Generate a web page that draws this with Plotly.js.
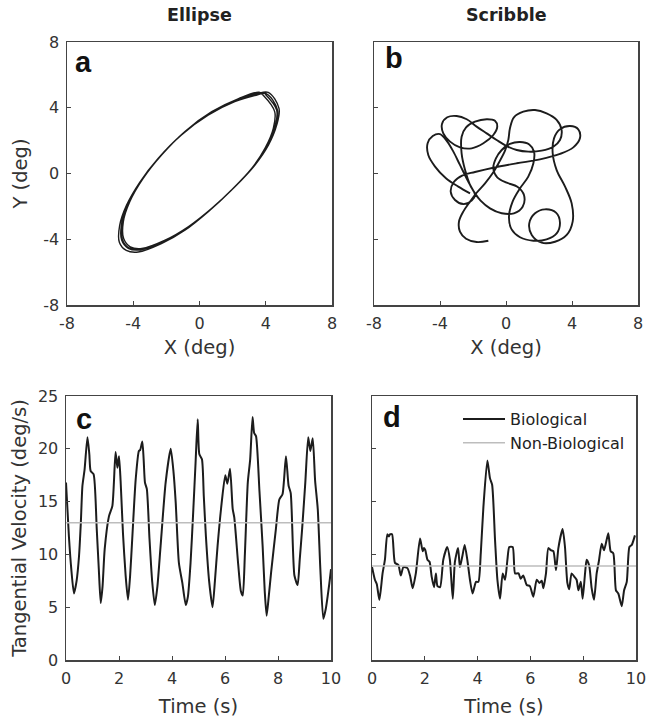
<!DOCTYPE html>
<html>
<head>
<meta charset="utf-8">
<script src="https://cdn.plot.ly/plotly-3.0.1.min.js"></script>
<style>html,body{margin:0;padding:0;background:#fff;}#chart{width:646px;height:718px;}</style>
</head>
<body>
<div id="chart"></div>
<script>
// ---------- Panel a: ellipse trajectory (deg), several traced loops ----------
const ellipseLoop1X = [3.96, 4.66, 4.56, 4.06, 3.25, 2.04, 0.63, -0.77, -2.19, -3.59, -4.30, -4.70, -4.70, -4.30, -3.49, -2.39, -0.98, 0.63, 2.25, 3.45];
const ellipseLoop1Y = [4.84, 3.86, 2.85, 1.63, 0.41, -0.90, -2.22, -3.33, -4.15, -4.65, -4.55, -4.05, -3.03, -1.81, -0.40, 1.02, 2.45, 3.66, 4.47, 4.84];
const ellipseLoop2X = [4.15, 4.80, 4.66, 4.16, 3.34, 2.14, 0.74, -0.66, -2.08, -3.48, -4.18, -4.58, -4.60, -4.21, -3.40, -2.29, -0.88, 0.74, 2.36, 3.60];
const ellipseLoop2Y = [4.94, 3.96, 2.94, 1.72, 0.50, -0.81, -2.12, -3.23, -4.06, -4.56, -4.46, -3.96, -2.94, -1.72, -0.30, 1.12, 2.56, 3.76, 4.56, 4.94];
const ellipseLoop3X = [3.86, 4.54, 4.46, 3.96, 3.16, 1.94, 0.53, -0.88, -2.30, -3.70, -4.42, -4.84, -4.82, -4.41, -3.60, -2.50, -1.09, 0.52, 2.13, 3.33];
const ellipseLoop3Y = [4.74, 3.76, 2.76, 1.54, 0.32, -1.00, -2.32, -3.45, -4.27, -4.78, -4.68, -4.18, -3.16, -1.94, -0.52, 0.91, 2.35, 3.55, 4.37, 4.74];
const ellipseLoop4X = [4.02, 4.70, 4.59, 4.08, 3.27, 2.06, 0.66, -0.74, -2.16, -3.56, -4.27, -4.66, -4.67, -4.28, -3.47, -2.36, -0.95, 0.66, 2.28, 3.50, 4.05];
const ellipseLoop4Y = [4.86, 3.89, 2.88, 1.65, 0.43, -0.88, -2.19, -3.30, -4.12, -4.62, -4.52, -4.02, -3.00, -1.78, -0.37, 1.05, 2.48, 3.69, 4.50, 4.87, 4.90];

// ---------- Panel b: scribble trajectory (deg) ----------
const scribbleX = [-1.07, -1.78, -2.42, -2.79, -2.85, -2.59, -2.18, -1.78, -1.27, -0.81, -0.40, -0.06, 0.14, 0.24, 0.48, 1.05, 1.76, 2.46, 3.07, 3.37, 3.27, 2.87, 2.16, 1.35, 0.65, 0.04, -0.57, -1.17, -1.78, -2.38, -2.99, -3.56, -3.88, -3.80, -3.39, -2.79, -2.08, -1.37, -0.77, -0.53, -0.67, -1.17, -1.88, -2.42, -2.69, -2.69, -2.48, -2.18, -1.88, -2.08, -2.59, -3.09, -3.35, -3.15, -2.63, -1.88, -0.77, 0.65, 2.06, 3.27, 4.08, 4.48, 4.38, 3.88, 3.27, 2.91, 2.83, 3.07, 3.58, 3.98, 4.04, 3.68, 2.97, 2.16, 1.56, 1.41, 1.76, 2.36, 3.03, 3.27, 3.07, 2.46, 1.66, 0.85, 0.34, 0.18, 0.40, 0.85, 1.35, 1.66, 1.70, 1.41, 0.85, 0.24, -0.26, -0.61, -0.77, -0.53, 0.04, 0.69, 1.09, 1.01, 0.48, -0.26, -0.97, -1.54, -1.88, -2.28, -2.79, -3.19, -3.56, -4.00, -4.44, -4.75, -4.71, -4.30, -3.64, -2.89, -2.18];
const scribbleY = [-4.09, -4.17, -3.97, -3.54, -2.93, -2.32, -1.71, -1.17, -0.60, 0.01, 0.72, 1.39, 2.04, 2.75, 3.42, 3.76, 3.86, 3.66, 3.26, 2.65, 2.04, 1.63, 1.39, 1.33, 1.43, 1.67, 2.04, 2.44, 2.85, 3.30, 3.50, 3.42, 3.01, 2.44, 1.94, 1.59, 1.53, 1.84, 2.34, 2.85, 3.21, 3.30, 3.15, 2.81, 2.24, 1.23, 0.21, -0.70, -1.31, -1.65, -1.86, -1.61, -1.11, -0.50, -0.11, 0.09, 0.35, 0.62, 0.86, 1.19, 1.59, 2.14, 2.69, 2.89, 2.69, 2.14, 1.23, 0.21, -0.80, -1.82, -2.93, -3.74, -4.15, -4.21, -3.74, -3.03, -2.42, -2.18, -2.38, -2.99, -3.64, -4.01, -4.09, -3.88, -3.40, -2.63, -1.71, -0.90, -0.19, 0.62, 1.33, 1.77, 1.92, 1.80, 1.43, 0.92, 0.31, -0.23, -0.56, -0.80, -1.31, -2.02, -2.42, -2.42, -2.12, -1.65, -1.21, -0.50, 0.52, 1.33, 1.94, 2.40, 2.28, 1.84, 1.12, 0.42, -0.29, -0.80, -1.21];

// ---------- Panel c: ellipse tangential velocity ----------
const ellipseTime = [0.00, 0.11, 0.20, 0.30, 0.40, 0.49, 0.56, 0.62, 0.70, 0.81, 0.88, 0.93, 1.04, 1.16, 1.24, 1.31, 1.38, 1.46, 1.62, 1.75, 1.87, 1.94, 2.00, 2.06, 2.15, 2.25, 2.34, 2.42, 2.50, 2.63, 2.75, 2.80, 2.88, 2.93, 2.98, 3.05, 3.15, 3.25, 3.35, 3.45, 3.57, 3.76, 3.95, 4.05, 4.14, 4.26, 4.39, 4.52, 4.60, 4.70, 4.80, 4.89, 4.97, 5.03, 5.13, 5.20, 5.28, 5.40, 5.53, 5.62, 5.72, 5.85, 6.01, 6.09, 6.19, 6.29, 6.35, 6.50, 6.60, 6.67, 6.75, 6.86, 6.95, 7.04, 7.10, 7.17, 7.30, 7.42, 7.50, 7.57, 7.65, 7.74, 7.92, 8.05, 8.17, 8.30, 8.40, 8.48, 8.62, 8.74, 8.82, 8.91, 9.03, 9.14, 9.22, 9.31, 9.40, 9.50, 9.60, 9.71, 9.80, 9.94, 10.00];
const ellipseBioVel = [16.8, 11.7, 8.6, 6.3, 7.5, 9.8, 13.0, 16.5, 18.0, 21.1, 19.5, 17.9, 17.6, 12.4, 8.5, 5.4, 7.0, 10.5, 13.6, 14.6, 19.7, 18.2, 19.3, 17.0, 12.0, 8.0, 5.7, 8.0, 11.5, 17.1, 19.8, 19.9, 20.7, 19.0, 16.8, 16.2, 11.5, 7.5, 5.2, 7.0, 10.8, 16.8, 20.0, 18.0, 14.9, 9.2, 7.3, 5.2, 6.0, 9.2, 14.0, 18.7, 22.8, 19.5, 19.0, 15.5, 11.7, 7.5, 5.0, 7.5, 10.8, 14.3, 17.5, 16.7, 18.1, 14.3, 13.5, 9.0, 6.5, 6.1, 10.0, 16.8, 19.0, 23.0, 21.5, 21.2, 16.0, 10.8, 6.5, 4.2, 6.0, 8.3, 12.4, 15.2, 15.7, 19.3, 16.5, 15.8, 8.0, 7.1, 9.5, 12.4, 16.8, 21.1, 19.8, 21.0, 17.0, 14.3, 8.5, 3.9, 4.8, 7.3, 8.6];
const ellipseNonBioTime = [0, 10];
const ellipseNonBioVel = [13.0, 13.0];

// ---------- Panel d: scribble tangential velocity ----------
const scribbleTime = [0.00, 0.11, 0.18, 0.28, 0.40, 0.49, 0.58, 0.64, 0.68, 0.76, 0.87, 1.00, 1.09, 1.19, 1.34, 1.44, 1.54, 1.66, 1.82, 1.92, 1.97, 2.02, 2.10, 2.18, 2.26, 2.35, 2.42, 2.48, 2.58, 2.70, 2.85, 2.95, 3.06, 3.14, 3.26, 3.33, 3.42, 3.51, 3.61, 3.71, 3.81, 3.94, 4.03, 4.12, 4.22, 4.37, 4.47, 4.55, 4.66, 4.75, 4.85, 4.95, 5.04, 5.13, 5.20, 5.33, 5.42, 5.55, 5.63, 5.73, 5.86, 5.98, 6.11, 6.24, 6.34, 6.43, 6.49, 6.59, 6.68, 6.77, 6.87, 6.97, 7.06, 7.22, 7.31, 7.40, 7.47, 7.56, 7.66, 7.75, 7.82, 7.91, 7.98, 8.07, 8.13, 8.23, 8.32, 8.41, 8.51, 8.59, 8.70, 8.79, 8.95, 9.04, 9.14, 9.24, 9.33, 9.46, 9.55, 9.65, 9.75, 9.84, 9.96];
const scribbleBioVel = [8.8, 7.6, 7.2, 5.7, 8.2, 9.5, 11.9, 11.7, 11.9, 11.9, 9.2, 9.0, 8.0, 8.8, 8.7, 8.0, 6.8, 8.2, 11.5, 10.3, 10.6, 10.4, 9.5, 9.3, 7.9, 6.9, 8.2, 7.0, 6.9, 9.5, 10.7, 9.5, 5.8, 9.3, 10.6, 8.8, 9.8, 10.9, 9.5, 7.6, 6.3, 7.4, 7.4, 10.1, 14.5, 18.9, 17.2, 16.6, 11.4, 7.6, 5.8, 8.2, 7.6, 9.5, 10.7, 10.7, 8.2, 8.2, 7.7, 8.0, 7.1, 7.0, 6.0, 7.6, 7.3, 7.5, 6.8, 8.2, 10.6, 10.4, 10.3, 8.5, 10.6, 12.4, 10.7, 7.3, 6.7, 8.2, 7.9, 7.6, 6.6, 7.4, 5.8, 8.2, 9.5, 8.9, 6.8, 5.7, 8.2, 9.3, 11.0, 10.4, 12.0, 10.3, 10.1, 6.6, 6.3, 5.1, 6.6, 7.4, 10.7, 10.9, 11.8];
const scribbleNonBioTime = [0, 10];
const scribbleNonBioVel = [8.9, 8.9];

const posTicks = [-8, -4, 0, 4, 8];
const velTicks = [0, 5, 10, 15, 20, 25];
const timeTicks = [0, 2, 4, 6, 8, 10];

const BIO = '#1c1c1c';
const NONBIO = '#bdbdbd';
const FONT = 'DejaVu Sans, Verdana, sans-serif';
const TEXT = '#333';

const ellipseX = [].concat(ellipseLoop1X, ellipseLoop2X, ellipseLoop3X, ellipseLoop4X);
const ellipseY = [].concat(ellipseLoop1Y, ellipseLoop2Y, ellipseLoop3Y, ellipseLoop4Y);

const traces = [
  {x: ellipseX, y: ellipseY, xaxis: 'x', yaxis: 'y', mode: 'lines', line: {color: BIO, width: 1.4, shape: 'spline', smoothing: 1}, showlegend: false, hoverinfo: 'skip'},
  {x: scribbleX, y: scribbleY, xaxis: 'x2', yaxis: 'y2', mode: 'lines', line: {color: BIO, width: 1.9, shape: 'spline', smoothing: 1}, showlegend: false, hoverinfo: 'skip'},
  {x: ellipseTime, y: ellipseBioVel, xaxis: 'x3', yaxis: 'y3', mode: 'lines', line: {color: BIO, width: 2, shape: 'spline', smoothing: 0.6}, showlegend: false, name: 'Biological'},
  {x: ellipseNonBioTime, y: ellipseNonBioVel, xaxis: 'x3', yaxis: 'y3', mode: 'lines', line: {color: NONBIO, width: 1.6}, showlegend: false, name: 'Non-Biological'},
  {x: scribbleTime, y: scribbleBioVel, xaxis: 'x4', yaxis: 'y4', mode: 'lines', line: {color: BIO, width: 2, shape: 'spline', smoothing: 0.6}, name: 'Biological'},
  {x: scribbleNonBioTime, y: scribbleNonBioVel, xaxis: 'x4', yaxis: 'y4', mode: 'lines', line: {color: NONBIO, width: 1.6}, name: 'Non-Biological'}
];

function ax(domain, range, ticks, showLabels, anchor) {
  return {
    domain: domain, range: range, anchor: anchor,
    tickmode: 'array', tickvals: ticks, ticktext: ticks.map(String),
    showticklabels: showLabels,
    ticks: 'inside', ticklen: 4, tickwidth: 1, tickcolor: '#444',
    showline: true, mirror: true, linecolor: '#444', linewidth: 1.5,
    showgrid: false, zeroline: false, fixedrange: true,
    tickfont: {family: FONT, size: 16, color: TEXT},
    ticklabelstandoff: 3, ticklabeloverflow: 'allow'
  };
}
function ttl(text, standoff) {
  return {title: {text: text, font: {family: FONT, size: 19.5, color: TEXT}, standoff: standoff}};
}

const W = 646, H = 718;
const px = v => v / W;
const py = v => 1 - v / H;

const LETTER = {family: 'Liberation Sans, Arial, sans-serif', size: 29, color: '#111'};
const HEAD = {family: FONT, size: 17.5, color: '#222'};

const layout = {
  width: W, height: H,
  margin: {l: 0, r: 0, t: 0, b: 0},
  paper_bgcolor: '#fff', plot_bgcolor: '#fff',
  font: {family: FONT, color: TEXT},
  xaxis: Object.assign(ax([px(67), px(332)], [-8, 8], posTicks, true, 'y'), ttl('X (deg)', 8)),
  yaxis: Object.assign(ax([py(305), py(42)], [-8, 8], posTicks, true, 'x'), ttl('Y (deg)', 10)),
  xaxis2: Object.assign(ax([px(374), px(638)], [-8, 8], posTicks, true, 'y2'), ttl('X (deg)', 8)),
  yaxis2: ax([py(305), py(42)], [-8, 8], posTicks, false, 'x2'),
  xaxis3: Object.assign(ax([px(66), px(331)], [0, 10], timeTicks, true, 'y3'), ttl('Time (s)', 12)),
  yaxis3: Object.assign(ax([py(660), py(396)], [0, 25], velTicks, true, 'x3'), ttl('Tangential Velocity (deg/s)', 6)),
  xaxis4: Object.assign(ax([px(372), px(636)], [0, 10], timeTicks, true, 'y4'), ttl('Time (s)', 12)),
  yaxis4: ax([py(660), py(396)], [0, 25], velTicks, false, 'x4'),
  showlegend: true,
  legend: {x: px(458), y: py(402), xanchor: 'left', yanchor: 'top', bgcolor: 'rgba(0,0,0,0)', borderwidth: 0,
           font: {family: FONT, size: 16, color: '#222'}, tracegroupgap: 0, itemwidth: 42},
  annotations: [
    {text: '<b>Ellipse</b>', x: px(199), y: py(15), xref: 'paper', yref: 'paper', xanchor: 'center', yanchor: 'middle', showarrow: false, font: HEAD},
    {text: '<b>Scribble</b>', x: px(506), y: py(15), xref: 'paper', yref: 'paper', xanchor: 'center', yanchor: 'middle', showarrow: false, font: HEAD},
    {text: '<b>a</b>', x: px(73), y: py(62), xref: 'paper', yref: 'paper', xanchor: 'left', yanchor: 'middle', showarrow: false, font: LETTER},
    {text: '<b>b</b>', x: px(383), y: py(58), xref: 'paper', yref: 'paper', xanchor: 'left', yanchor: 'middle', showarrow: false, font: LETTER},
    {text: '<b>c</b>', x: px(74), y: py(419), xref: 'paper', yref: 'paper', xanchor: 'left', yanchor: 'middle', showarrow: false, font: LETTER},
    {text: '<b>d</b>', x: px(381), y: py(417), xref: 'paper', yref: 'paper', xanchor: 'left', yanchor: 'middle', showarrow: false, font: LETTER}
  ]
};

Plotly.newPlot('chart', traces, layout, {displayModeBar: false, staticPlot: true});
</script>
</body>
</html>
